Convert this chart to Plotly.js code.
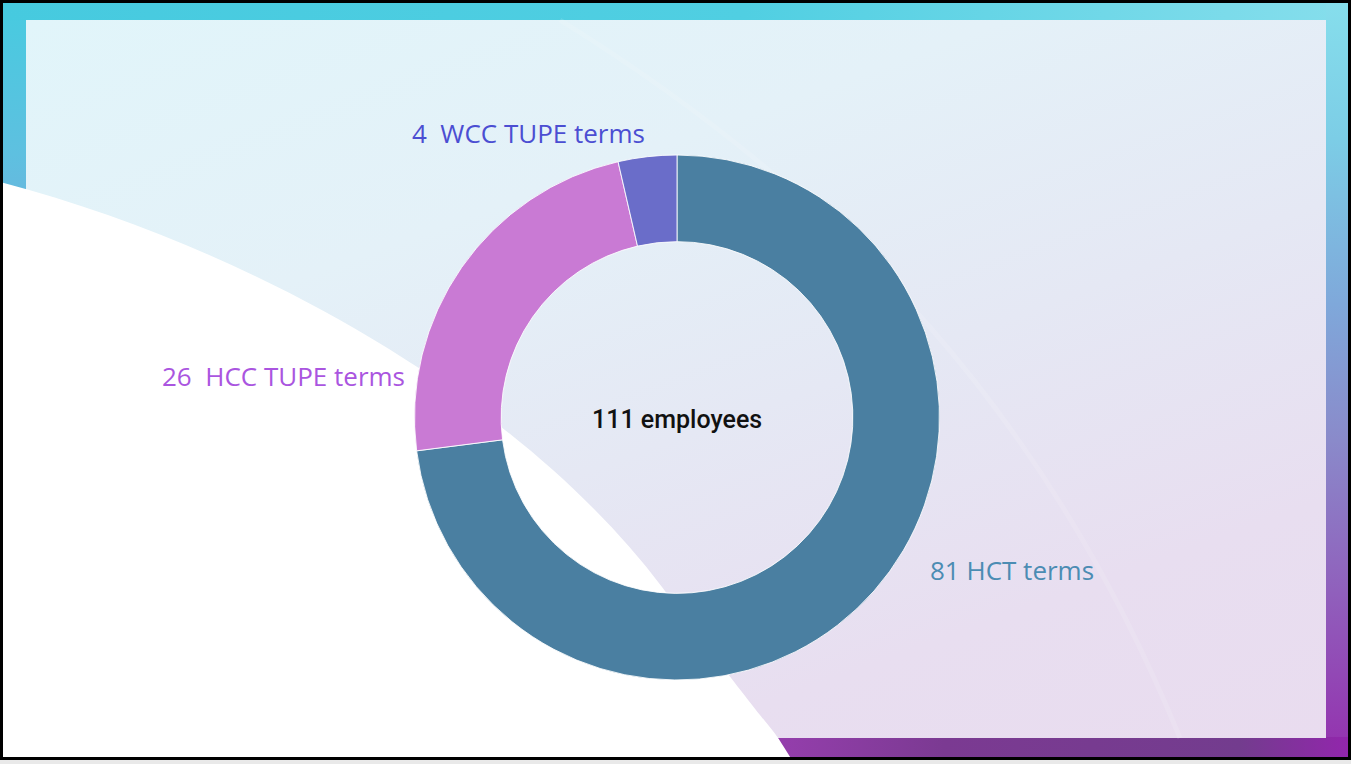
<!DOCTYPE html>
<html>
<head>
<meta charset="utf-8">
<script src="https://cdn.plot.ly/plotly-3.0.1.min.js"></script>
<style>
  html, body { margin:0; padding:0; background:#e9e9e9; }
  #slide { position:absolute; left:0; top:0; width:1351px; height:760px; box-sizing:border-box;
           border:3px solid #000; overflow:hidden;
           background: linear-gradient(to bottom, #47CBE0 0%, #5EC0E0 20%, #72AEDC 35%, #8C7DC6 68%, #9440AE 90%, #8A2FA6 100%); }
  #topband { position:absolute; left:0; top:0; width:100%; height:17px;
           background: linear-gradient(to right, #46CADF 0%, #50CFE2 55%, #86DEEC 100%); }
  #rightband { position:absolute; right:0; top:0; width:22px; height:100%;
           background: linear-gradient(to bottom, #86DEEC 0%, #7CCDE6 18%, #7FA8DA 40%, #8A8ACA 58%, #9060BC 78%, #9430AE 100%); }
  #botband { position:absolute; left:0; bottom:0; width:100%; height:20px;
           background: linear-gradient(to right, #9A3FB2 55%, #7B3A92 70%, #733C8E 92%, #9226AC 100%); }
  #panel { position:absolute; left:23px; top:17px; width:1300px; height:718px;
           background: linear-gradient(160deg, #E1F5FA 0%, #E4F1F8 30%, #E5E8F4 55%, #E8DEF0 80%, #E9DCEF 100%); }
  #deco { position:absolute; left:0; top:0; }
  #chart { position:absolute; left:0; top:0; width:1351px; height:764px; }
</style>
</head>
<body>
<div id="slide">
  <div id="topband"></div>
  <div id="rightband"></div>
  <div id="botband"></div>
  <div id="panel"></div>
  <svg id="deco" width="1351" height="760" viewBox="3 3 1351 760">
    <path d="M560,20 C850,200 1050,420 1180,738" fill="none" stroke="rgba(255,255,255,0.12)" stroke-width="5"/>
    <path d="M0,182 C260,250 525,405 662,587 S762,712 792,760 L0,760 Z" fill="#ffffff"/>
  </svg>
</div>
<div id="chart"></div>
<script>
// ---- data ----
const categories = ["HCT terms", "HCC TUPE terms", "WCC TUPE terms"];
const counts = [81, 26, 4];
const labelSeparators = [" ", "\u00A0 ", "\u00A0 "];
const centreLabel = "employees";

// ---- styles ----
const sliceColors = ["#4A7FA1", "#C97AD4", "#6A6DC9"];
const textColors = ["#4B8CB3", "#AA55E0", "#4B4ED2"];
const labelPos = [
  {x: 928, y: 570},
  {x: 160, y: 376},
  {x: 410, y: 133}
];

const W = 1351, H = 764;
const cx = 677, cy = 417.5, R = 262.5;
const total = counts.reduce((a, b) => a + b, 0);

const trace = {
  type: "pie",
  labels: categories,
  values: counts,
  hole: 0.67,
  sort: false,
  direction: "clockwise",
  rotation: 0,
  textinfo: "none",
  hoverinfo: "label+value",
  marker: { colors: sliceColors, line: { color: "rgba(255,255,255,0.85)", width: 1 } },
  domain: { x: [(cx - R) / W, (cx + R) / W], y: [1 - (cy + R) / H, 1 - (cy - R) / H] },
  showlegend: false
};

const annotations = categories.map((c, i) => ({
  xref: "paper", yref: "paper",
  x: labelPos[i].x / W, y: 1 - labelPos[i].y / H,
  xanchor: "left", yanchor: "middle",
  text: counts[i] + labelSeparators[i] + c,
  showarrow: false,
  font: { family: "Open Sans", size: 26, color: textColors[i] }
}));
annotations.push({
  xref: "paper", yref: "paper",
  x: cx / W, y: 1 - 419 / H,
  xanchor: "center", yanchor: "middle",
  text: total + " " + centreLabel,
  showarrow: false,
  font: { family: "Roboto", size: 25, color: "#111111", weight: 500 }
});

Plotly.newPlot("chart", [trace], {
  width: W, height: H,
  margin: { l: 0, r: 0, t: 0, b: 0 },
  paper_bgcolor: "rgba(0,0,0,0)",
  plot_bgcolor: "rgba(0,0,0,0)",
  annotations: annotations
}, { displayModeBar: false, staticPlot: true });
</script>
</body>
</html>
